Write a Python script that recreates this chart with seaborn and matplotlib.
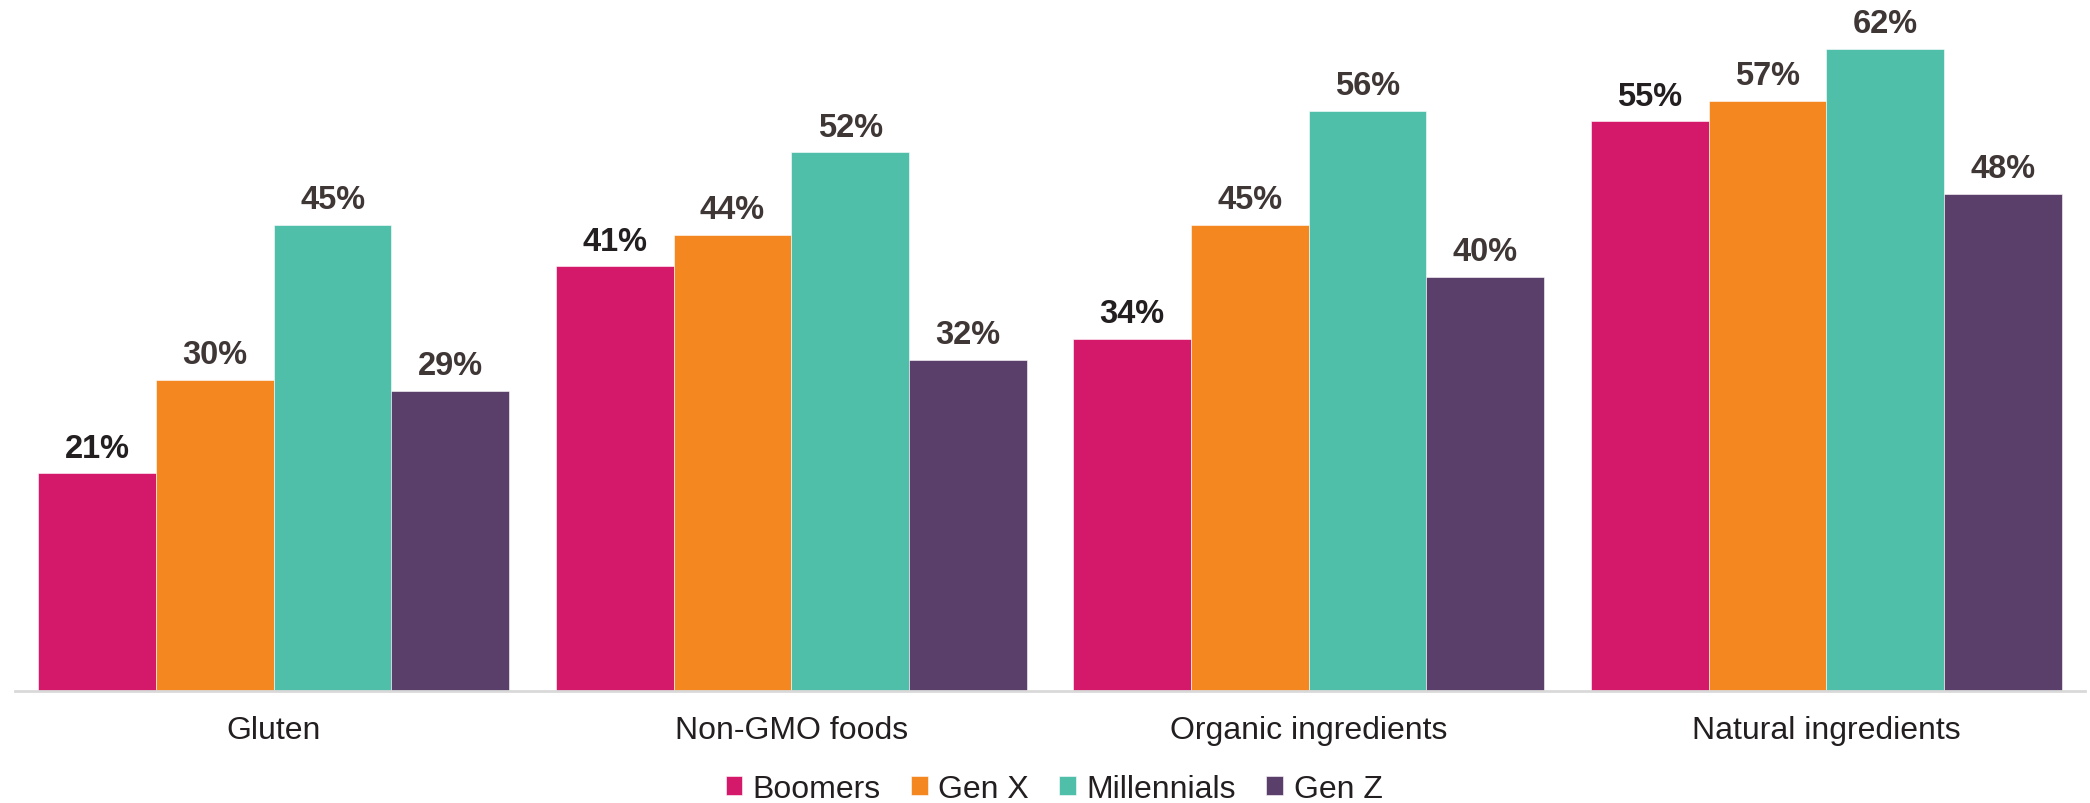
import matplotlib
matplotlib.use("Agg")
import matplotlib.pyplot as plt
import seaborn as sns
import pandas as pd

categories = ["Gluten", "Non-GMO foods", "Organic ingredients", "Natural ingredients"]
generations = ["Boomers", "Gen X", "Millennials", "Gen Z"]
boomers = [21, 41, 34, 55]
gen_x = [30, 44, 45, 57]
millennials = [45, 52, 56, 62]
gen_z = [29, 32, 40, 48]
colors = ["#D4196A", "#F58720", "#50BFAA", "#5A3F6B"]
label_colors = ["#231F20", "#3F3636", "#3F3636", "#3F3636"]

rows = []
for gen, vals in zip(generations, [boomers, gen_x, millennials, gen_z]):
    for cat, v in zip(categories, vals):
        rows.append({"Category": cat, "Generation": gen, "Value": v})
df = pd.DataFrame(rows)

sns.set_theme(style="white")
plt.rcParams["font.family"] = ["Liberation Sans", "DejaVu Sans"]

fig = plt.figure(figsize=(20.9, 8.04), dpi=100)
ax = fig.add_axes([15 / 2090, (804 - 692) / 804, 2070 / 2090, 692 / 804])

sns.barplot(data=df, x="Category", y="Value", hue="Generation",
            order=categories, hue_order=generations, palette=colors,
            width=0.91, gap=0, ax=ax, legend=True, saturation=1,
            edgecolor="white", linewidth=0.4)

ax.set_ylim(0, 66.8)
ax.set_xlim(-0.5, len(categories) - 0.5)

for cont, lc in zip(ax.containers, label_colors):
    ax.bar_label(cont, labels=[f"{int(v)}%" for v in cont.datavalues],
                 padding=7, fontsize=23.5, fontweight="bold", color=lc)

for s in ["top", "right", "left"]:
    ax.spines[s].set_visible(False)
ax.spines["bottom"].set_color("#D9D9D9")
ax.spines["bottom"].set_linewidth(2)
ax.set_yticks([])
ax.set_xlabel("")
ax.set_ylabel("")
ax.tick_params(axis="x", length=0, pad=17, labelsize=23, labelcolor="#231F20")

handles, labels = ax.get_legend_handles_labels()
ax.get_legend().remove()
fig.legend(handles, labels, loc="center", bbox_to_anchor=(0.5043, 0.0175),
           ncol=4, frameon=False, fontsize=23, handlelength=0.53,
           handleheight=0.53, handletextpad=0.32, columnspacing=0.95,
           labelcolor="#231F20")

fig.savefig("out.png", dpi=100)
